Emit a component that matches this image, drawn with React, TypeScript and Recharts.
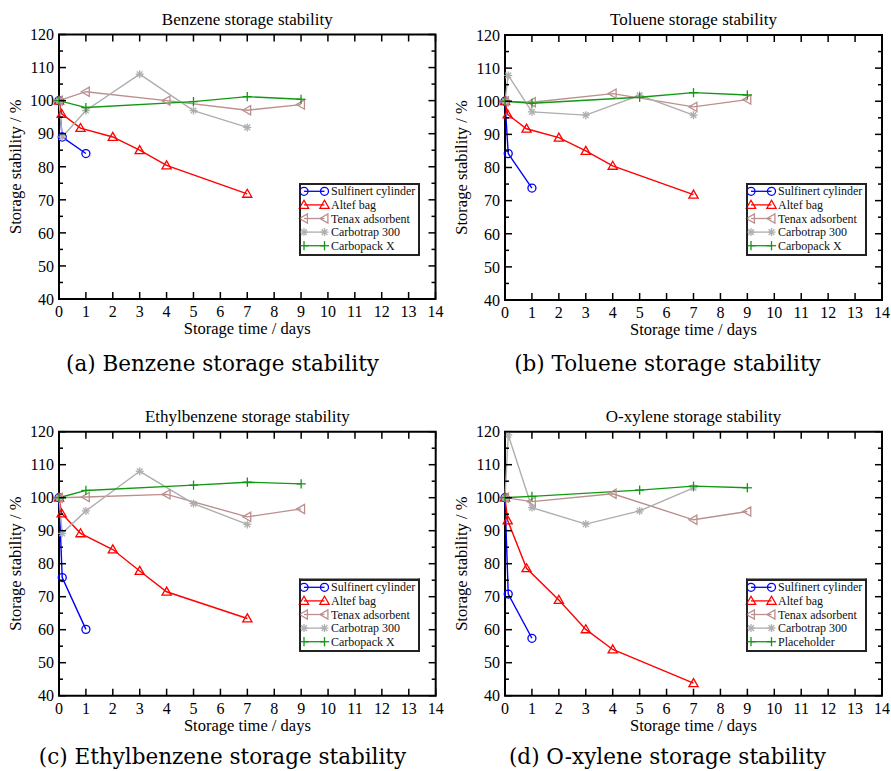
import React from 'react';
import { LineChart, Line, XAxis, YAxis, ReferenceArea, Legend } from 'recharts';

// ---- time points (days) per storage medium ----
const sulfinertDays = [0, 0.12, 1];
const altefDays = [0, 0.1, 0.8, 2, 3, 4, 7];
const tenaxDays = [0, 1, 4, 7, 9];
const carbotrapDays = [0, 0.12, 1, 3, 5, 7];
const carbopackDays = [0, 1, 5, 7, 9];

// ---- Benzene ----
const benzeneSulfinert = [100, 89, 84];
const benzeneAltef = [100, 96, 91.7, 89, 85, 80.4, 71.8];
const benzeneTenax = [100, 102.7, 100, 97.1, 98.8];
const benzeneCarbotrap = [100, 89, 97, 108, 97, 91.9];
const benzeneCarbopack = [100, 97.9, 99.7, 101.2, 100.4];

// ---- Toluene ----
const tolueneSulfinert = [100, 84.2, 73.8];
const tolueneAltef = [100, 96, 91.7, 89, 85, 80.5, 71.8];
const tolueneTenax = [100, 99.7, 102.3, 98.3, 100.5];
const tolueneCarbotrap = [100, 107.8, 96.8, 95.8, 101.8, 95.8];
const tolueneCarbopack = [100, 99.4, 101.2, 102.6, 101.9];

// ---- Ethylbenzene ----
const ethylSulfinert = [100, 75.8, 60.1];
const ethylAltef = [100, 95.2, 89.2, 84.3, 77.8, 71.5, 63.4];
const ethylTenax = [100, 100.2, 101, 94.2, 96.6];
const ethylCarbotrap = [100, 89.2, 96, 108, 98.2, 91.9];
const ethylCarbopack = [100, 102.2, 103.8, 104.7, 104.2];

// ---- O-xylene ----
const xyleneSulfinert = [100, 70.8, 57.4];
const xyleneAltef = [100, 93.1, 78.6, 69, 60.1, 54, 43.8];
const xyleneTenax = [100, 98.8, 101.2, 93.3, 95.8];
const xyleneCarbotrap = [100, 119, 97, 92, 96, 103];
const xyleneCarbopack = [100, 100.4, 102.3, 103.5, 103];

// ---- labels / ticks ----
const seriesNames = ['Sulfinert cylinder', 'Altef bag', 'Tenax adsorbent', 'Carbotrap 300', 'Carbopack X'];
const xyleneSeriesNames = ['Sulfinert cylinder', 'Altef bag', 'Tenax adsorbent', 'Carbotrap 300', 'Placeholder'];
const xTicks = [0, 1, 2, 3, 4, 5, 6, 7, 8, 9, 10, 11, 12, 13, 14];
const yTicks = [40, 45, 50, 55, 60, 65, 70, 75, 80, 85, 90, 95, 100, 105, 110, 115, 120];
const titles = ['Benzene storage stability', 'Toluene storage stability', 'Ethylbenzene storage stability', 'O-xylene storage stability'];
const captions = ['(a) Benzene storage stability', '(b) Toluene storage stability', '(c) Ethylbenzene storage stability', '(d) O-xylene storage stability'];
const xLabel = 'Storage time / days';
const yLabel = 'Storage stability / %';

// ---- styling ----
const seriesDays = [sulfinertDays, altefDays, tenaxDays, carbotrapDays, carbopackDays];
const seriesColors = ['#0000ff', '#ff0000', '#bc8f8f', '#aeaeae', '#119911'];
type Kind = 'circle' | 'triangle' | 'left' | 'star' | 'plus';
const seriesKinds: Kind[] = ['circle', 'triangle', 'left', 'star', 'plus'];

const SERIF = '"Liberation Serif", "Times New Roman", serif';
const CAPTION_FONT = '"DejaVu Serif", serif';
const LEGEND_W = 121;
const LEGEND_H = 73;

function Marker({ cx, cy, kind, color }: { cx: number; cy: number; kind: Kind; color: string }) {
  if (cx == null || cy == null || isNaN(cx) || isNaN(cy)) return null;
  const sw = 1.3;
  switch (kind) {
    case 'circle':
      return <circle cx={cx} cy={cy} r={4} fill="none" stroke={color} strokeWidth={sw} />;
    case 'triangle':
      return (
        <polygon
          points={`${cx},${cy - 4.6} ${cx - 4.6},${cy + 3.4} ${cx + 4.6},${cy + 3.4}`}
          fill="none"
          stroke={color}
          strokeWidth={sw}
        />
      );
    case 'left':
      return (
        <polygon
          points={`${cx - 4.6},${cy} ${cx + 3.4},${cy - 4.6} ${cx + 3.4},${cy + 4.6}`}
          fill="none"
          stroke={color}
          strokeWidth={sw}
        />
      );
    case 'star': {
      const r = 4;
      const d = r * 0.707;
      return (
        <g stroke={color} strokeWidth={sw}>
          <line x1={cx - r} y1={cy} x2={cx + r} y2={cy} />
          <line x1={cx} y1={cy - r} x2={cx} y2={cy + r} />
          <line x1={cx - d} y1={cy - d} x2={cx + d} y2={cy + d} />
          <line x1={cx - d} y1={cy + d} x2={cx + d} y2={cy - d} />
        </g>
      );
    }
    case 'plus':
    default: {
      const r = 4.6;
      return (
        <g stroke={color} strokeWidth={sw}>
          <line x1={cx - r} y1={cy} x2={cx + r} y2={cy} />
          <line x1={cx} y1={cy - r} x2={cx} y2={cy + r} />
        </g>
      );
    }
  }
}

const toPoints = (days: number[], vals: number[]) => days.map((d, i) => ({ d, v: vals[i] }));

type Panel = {
  left: number;
  top: number;
  h: number;
  plot: { l: number; t: number; r: number; b: number };
  legend: { x: number; y: number };
  values: number[][];
  names: string[];
};

const panels: Panel[] = [
  {
    left: 0, top: 0, h: 390,
    plot: { l: 59, t: 34.5, r: 435.5, b: 299 },
    legend: { x: 299, y: 183 },
    values: [benzeneSulfinert, benzeneAltef, benzeneTenax, benzeneCarbotrap, benzeneCarbopack],
    names: seriesNames,
  },
  {
    left: 445, top: 0, h: 390,
    plot: { l: 60, t: 35, r: 437, b: 300 },
    legend: { x: 301, y: 183 },
    values: [tolueneSulfinert, tolueneAltef, tolueneTenax, tolueneCarbotrap, tolueneCarbopack],
    names: seriesNames,
  },
  {
    left: 0, top: 390, h: 381,
    plot: { l: 59, t: 41.7, r: 435.7, b: 305.7 },
    legend: { x: 299, y: 188.5 },
    values: [ethylSulfinert, ethylAltef, ethylTenax, ethylCarbotrap, ethylCarbopack],
    names: seriesNames,
  },
  {
    left: 445, top: 390, h: 381,
    plot: { l: 60, t: 41.7, r: 437, b: 305.7 },
    legend: { x: 301, y: 188.5 },
    values: [xyleneSulfinert, xyleneAltef, xyleneTenax, xyleneCarbotrap, xyleneCarbopack],
    names: xyleneSeriesNames,
  },
];

const MAJOR = 7;
const MINOR = 4;

function makeXTick(plotH: number) {
  return (props: any) => {
    const { x, y, payload } = props;
    return (
      <g>
        <line x1={x} y1={y} x2={x} y2={y - MAJOR} stroke="#000" strokeWidth={1.5} />
        <line x1={x} y1={y - plotH} x2={x} y2={y - plotH + MAJOR} stroke="#000" strokeWidth={1.5} />
        <text x={x} y={y + 18} textAnchor="middle" fontFamily={SERIF} fontSize={16} fill="#000">
          {payload.value}
        </text>
      </g>
    );
  };
}

function makeYTick(plotW: number) {
  return (props: any) => {
    const { x, y, payload } = props;
    const v = payload.value as number;
    const major = v % 10 === 0;
    const len = major ? MAJOR : MINOR;
    return (
      <g>
        <line x1={x} y1={y} x2={x + len} y2={y} stroke="#000" strokeWidth={1.5} />
        <line x1={x + plotW - len} y1={y} x2={x + plotW} y2={y} stroke="#000" strokeWidth={1.5} />
        {major && (
          <text x={x - 5} y={y} dy="0.36em" textAnchor="end" fontFamily={SERIF} fontSize={16} fill="#000">
            {v}
          </text>
        )}
      </g>
    );
  };
}

function makeLegend(names: string[]) {
  return () => {
    const rowY = (i: number) => 8.3 + i * 13.6;
    return (
      <svg width={LEGEND_W} height={LEGEND_H} style={{ display: 'block', overflow: 'visible' }}>
        <path
          d={`M1,1 H${LEGEND_W - 1} V${LEGEND_H - 1} H1 Z`}
          fill="none"
          stroke="#222222"
          strokeWidth={2}
        />
        {names.map((name, i) => {
          const color = seriesColors[i];
          const kind = seriesKinds[i];
          const y = rowY(i);
          return (
            <g key={i}>
              <line x1={5} y1={y} x2={25.5} y2={y} stroke={color} strokeWidth={1.3} />
              <Marker cx={5} cy={y} kind={kind} color={color} />
              <Marker cx={25.5} cy={y} kind={kind} color={color} />
              <text x={32} y={y + 4} fontFamily={SERIF} fontSize={12} fill="#111">
                {name}
              </text>
            </g>
          );
        })}
      </svg>
    );
  };
}

function PanelChart({ p }: { p: Panel }) {
  const plotW = p.plot.r - p.plot.l;
  const plotH = p.plot.b - p.plot.t;
  return (
    <div style={{ position: 'absolute', left: p.left, top: p.top, width: 445, height: p.h }}>
      <LineChart
        width={445}
        height={p.h}
        margin={{ top: p.plot.t, right: 445 - p.plot.r, bottom: 0, left: 0 }}
      >
        <XAxis
          dataKey="d"
          type="number"
          domain={[0, 14]}
          ticks={xTicks}
          interval={0}
          height={p.h - p.plot.b}
          axisLine={false}
          tickLine={false}
          tickSize={0}
          tickMargin={0}
          tick={makeXTick(plotH)}
          allowDuplicatedCategory={false}
        />
        <YAxis
          type="number"
          domain={[40, 120]}
          ticks={yTicks}
          interval={0}
          width={p.plot.l}
          axisLine={false}
          tickLine={false}
          tickSize={0}
          tickMargin={0}
          tick={makeYTick(plotW)}
        />
        <ReferenceArea
          x1={0}
          x2={14}
          y1={40}
          y2={120}
          fill="none"
          fillOpacity={0}
          stroke="#000"
          strokeWidth={2}
          ifOverflow="visible"
        />
        {p.values.map((vals, si) => (
          <Line
            key={si}
            data={toPoints(seriesDays[si], vals)}
            dataKey="v"
            name={p.names[si]}
            type="linear"
            stroke={seriesColors[si]}
            strokeWidth={1.4}
            dot={(dp: any) => (
              <Marker key={`m-${si}-${dp.index}`} cx={dp.cx} cy={dp.cy} kind={seriesKinds[si]} color={seriesColors[si]} />
            )}
            activeDot={false}
            isAnimationActive={false}
          />
        ))}
        <Legend
          layout="vertical"
          align="center"
          verticalAlign="middle"
          content={makeLegend(p.names)}
          wrapperStyle={{ position: 'absolute', left: p.legend.x, top: p.legend.y, width: LEGEND_W, height: LEGEND_H }}
        />
      </LineChart>
    </div>
  );
}

export default function App() {
  return (
    <div style={{ position: 'absolute', left: 0, top: 0, width: 891, height: 771, background: '#fff', overflow: 'hidden' }}>
      {panels.map((p, i) => (
        <PanelChart key={i} p={p} />
      ))}
      <svg width={891} height={771} style={{ position: 'absolute', left: 0, top: 0, pointerEvents: 'none' }}>
        {panels.map((p, i) => {
          const cx = p.left + (p.plot.l + p.plot.r) / 2;
          const cy = p.top + (p.plot.t + p.plot.b) / 2;
          const lx = p.left + p.legend.x;
          const ly = p.top + p.legend.y;
          return (
            <g key={i}>
              <line x1={lx} y1={ly + 0.75} x2={lx + LEGEND_W} y2={ly + 0.75} stroke="#222" strokeWidth={1.5} />
              <line x1={lx} y1={ly + LEGEND_H - 0.75} x2={lx + LEGEND_W} y2={ly + LEGEND_H - 0.75} stroke="#222" strokeWidth={1.5} />
              <line x1={lx + 0.75} y1={ly} x2={lx + 0.75} y2={ly + LEGEND_H} stroke="#222" strokeWidth={1.5} />
              <line x1={lx + LEGEND_W - 0.75} y1={ly} x2={lx + LEGEND_W - 0.75} y2={ly + LEGEND_H} stroke="#222" strokeWidth={1.5} />
              <text x={cx} y={p.top + p.plot.t - 10} textAnchor="middle" fontFamily={SERIF} fontSize={17} fill="#000">
                {titles[i]}
              </text>
              <text x={cx} y={p.top + p.plot.b + 35} textAnchor="middle" fontFamily={SERIF} fontSize={16.5} fill="#000">
                {xLabel}
              </text>
              <text
                transform={`translate(${p.left + p.plot.l - 38}, ${cy}) rotate(-90)`}
                textAnchor="middle"
                fontFamily={SERIF}
                fontSize={16.5}
                fill="#000"
              >
                {yLabel}
              </text>
              <text
                x={p.left + 222.5}
                y={i < 2 ? 371 : 764}
                textAnchor="middle"
                fontFamily={CAPTION_FONT}
                fontSize={21.5}
                fill="#000"
              >
                {captions[i]}
              </text>
            </g>
          );
        })}
      </svg>
    </div>
  );
}
